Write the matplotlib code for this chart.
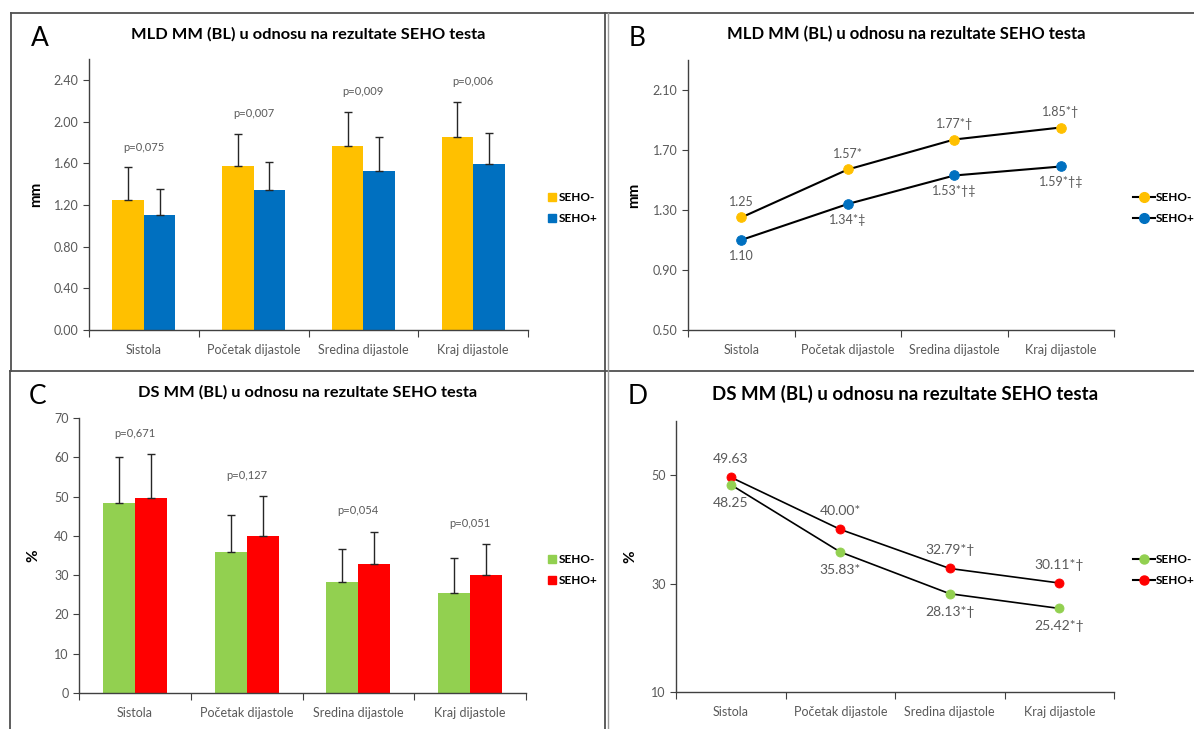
import numpy as np
import matplotlib
matplotlib.use("Agg")
import matplotlib.pyplot as plt
from matplotlib.patches import Patch
from matplotlib.lines import Line2D

plt.rcParams['font.family'] = ['Lato', 'DejaVu Sans']

# categories / groups
phases = ["Sistola", "Početak dijastole", "Sredina dijastole", "Kraj dijastole"]
groups = ["SEHO-", "SEHO+"]

# MLD MM (BL), mm
mld_neg = [1.25, 1.57, 1.77, 1.85]
mld_pos = [1.10, 1.34, 1.53, 1.59]
mld_neg_sd = [0.31, 0.31, 0.32, 0.34]
mld_pos_sd = [0.25, 0.27, 0.32, 0.30]
mld_p = ["p=0,075", "p=0,007", "p=0,009", "p=0,006"]
mld_neg_lbl = ["1.25", "1.57*", "1.77*†", "1.85*†"]
mld_pos_lbl = ["1.10", "1.34*‡", "1.53*†‡", "1.59*†‡"]

# DS MM (BL), %
ds_neg = [48.25, 35.83, 28.13, 25.42]
ds_pos = [49.63, 40.00, 32.79, 30.11]
ds_neg_sd = [11.9, 9.6, 8.6, 8.9]
ds_pos_sd = [11.1, 10.1, 8.3, 7.7]
ds_p = ["p=0,671", "p=0,127", "p=0,054", "p=0,051"]
ds_neg_lbl = ["48.25", "35.83*", "28.13*†", "25.42*†"]
ds_pos_lbl = ["49.63", "40.00*", "32.79*†", "30.11*†"]

ORANGE, BLUE = "#FFC000", "#0070C0"
GREEN, RED = "#92D050", "#FF0000"
GREY = "#595959"
AXIS = "#404040"

W, H = 1194, 729
fig = plt.figure(figsize=(W / 100, H / 100), dpi=100)


def px_axes(l, t, r, b):
    return fig.add_axes([l / W, 1 - b / H, (r - l) / W, (b - t) / H])


def fx(x):
    return x / W


def fy(y):
    return 1 - y / H


def style(ax, ymax, yticks, fmt, ylabel, lab_x):
    x = np.arange(len(phases))
    ax.set_xlim(-0.5, len(phases) - 0.5)
    ax.set_ylim(yticks[0], ymax)
    ax.set_yticks(yticks)
    ax.set_yticklabels([fmt.format(v) for v in yticks], color=GREY, fontsize=9)
    ax.set_xticks(np.arange(-0.5, len(phases)), labels=[""] * (len(phases) + 1))
    ax.set_xticks(x, labels=phases, minor=True)
    ax.tick_params(axis="x", which="major", length=5, direction="out", color=AXIS)
    ax.tick_params(axis="x", which="minor", length=0, pad=10, labelsize=9, labelcolor=GREY)
    ax.tick_params(axis="y", length=4, direction="out", color=AXIS)
    for s in ["top", "right"]:
        ax.spines[s].set_visible(False)
    for s in ["left", "bottom"]:
        ax.spines[s].set_color(AXIS)
        ax.spines[s].set_linewidth(1.0)
    ax.set_ylabel(ylabel, fontweight="bold", fontsize=11, color="black")
    ax.yaxis.set_label_coords(lab_x, 0.5)


def bar_panel(ax, neg, pos, neg_sd, pos_sd, pvals, c1, c2, ymax):
    x = np.arange(len(phases))
    w = 0.287
    ax.bar(x - w / 2, neg, w, color=c1, zorder=2)
    ax.bar(x + w / 2, pos, w, color=c2, zorder=2)
    ekw = dict(fmt="none", ecolor="#262626", elinewidth=1.0, capsize=3, capthick=1.0, zorder=3)
    ax.errorbar(x - w / 2, neg, yerr=[np.zeros(len(neg)), neg_sd], **ekw)
    ax.errorbar(x + w / 2, pos, yerr=[np.zeros(len(pos)), pos_sd], **ekw)
    tops = np.maximum(np.add(neg, neg_sd), np.add(pos, pos_sd))
    for xi, t, p in zip(x, tops, pvals):
        ax.text(xi, t + 0.075 * ymax, p, ha="center", va="center", fontsize=8, color=GREY)


def line_panel(ax, top, bot, top_lbl, bot_lbl, c_top, c_bot, ms, lw, fs, off):
    x = np.arange(len(phases))
    for vals, c in [(top, c_top), (bot, c_bot)]:
        ax.plot(x, vals, color="black", lw=lw, marker="o", ms=ms, mfc=c,
                mec=c, mew=0.6, zorder=3, clip_on=False)
    for xi, v, t in zip(x, top, top_lbl):
        ax.annotate(t, (xi, v), xytext=(0, off), textcoords="offset points",
                    ha="center", va="center", fontsize=fs, color=GREY)
    for xi, v, t in zip(x, bot, bot_lbl):
        ax.annotate(t, (xi, v), xytext=(0, -off), textcoords="offset points",
                    ha="center", va="center", fontsize=fs, color=GREY)


# ---- A: MLD bars
axA = px_axes(89, 59, 528, 330)
bar_panel(axA, mld_neg, mld_pos, mld_neg_sd, mld_pos_sd, mld_p, ORANGE, BLUE, 2.6)
style(axA, 2.6, np.arange(0, 2.41, 0.4), "{:.2f}", "mm", -46 / 439)

# ---- B: MLD lines
axB = px_axes(688, 60, 1114, 330)
line_panel(axB, mld_neg, mld_pos, mld_neg_lbl, mld_pos_lbl, ORANGE, BLUE, 7, 1.5, 9, 11.5)
style(axB, 2.3, np.arange(0.5, 2.11, 0.4), "{:.2f}", "mm", -47 / 426)

# ---- C: DS bars
axC = px_axes(79, 418, 526, 693)
bar_panel(axC, ds_neg, ds_pos, ds_neg_sd, ds_pos_sd, ds_p, GREEN, RED, 70)
style(axC, 70, np.arange(0, 71, 10), "{:.0f}", "%", -39 / 447)

# ---- D: DS lines
axD = px_axes(676, 421, 1114, 692)
line_panel(axD, ds_pos, ds_neg, ds_pos_lbl, ds_neg_lbl, RED, GREEN, 6.5, 1.2, 10, 13)
style(axD, 60, np.arange(10, 51, 20), "{:.0f}", "%", -39 / 438)

# legends
sq = dict(loc="center left", frameon=False, borderpad=0, handlelength=0.65, handleheight=0.65,
          handletextpad=0.25, labelspacing=0.8, prop={"weight": "bold", "size": 8.5})
fig.legend([Patch(color=ORANGE), Patch(color=BLUE)], groups,
           bbox_to_anchor=(fx(542), fy(208)), **sq)
fig.legend([Patch(color=GREEN), Patch(color=RED)], groups,
           bbox_to_anchor=(fx(542), fy(570)), **sq)

ln = dict(loc="center left", frameon=False, borderpad=0, handlelength=1.9,
          handletextpad=0.05, labelspacing=0.85, prop={"weight": "bold", "size": 8.5})


def lh(c, ms):
    return Line2D([], [], color="black", lw=1.5, marker="o", ms=ms, mfc=c, mec=c)


fig.legend([lh(ORANGE, 7), lh(BLUE, 7)], groups, bbox_to_anchor=(fx(1127), fy(208)), **ln)
fig.legend([lh(GREEN, 6.5), lh(RED, 6.5)], groups, bbox_to_anchor=(fx(1127), fy(570)), **ln)

# titles and panel letters
fig.text(fx(308), fy(34), "MLD MM (BL) u odnosu na rezultate SEHO testa",
         ha="center", va="center", fontweight="bold", fontsize=11.8)
fig.text(fx(906), fy(34), "MLD MM (BL) u odnosu na rezultate SEHO testa",
         ha="center", va="center", fontweight="bold", fontsize=12)
fig.text(fx(308), fy(392), "DS MM (BL) u odnosu na rezultate SEHO testa",
         ha="center", va="center", fontweight="bold", fontsize=11.8)
fig.text(fx(905), fy(394), "DS MM (BL) u odnosu na rezultate SEHO testa",
         ha="center", va="center", fontweight="bold", fontsize=13.4)

for lx, ly, s in [(40, 38, "A"), (637, 39, "B"), (38, 396, "C"), (638, 396, "D")]:
    fig.text(fx(lx), fy(ly), s, ha="center", va="center", fontsize=19)

# panel frames
frame = dict(color="#505050", lw=1.3, transform=fig.transFigure)
fig.add_artist(Line2D([fx(11), fx(11)], [fy(13), fy(371)], **frame))
fig.add_artist(Line2D([fx(10), fx(10)], [fy(371), fy(729)], **frame))
fig.add_artist(Line2D([fx(11), fx(1194)], [fy(13), fy(13)], **frame))
fig.add_artist(Line2D([fx(10), fx(1194)], [fy(371), fy(371)], **frame))
fig.add_artist(Line2D([fx(605), fx(605)], [fy(13), fy(729)], **frame))
fig.add_artist(Line2D([fx(608), fx(608)], [fy(13), fy(729)], color="#9a9a9a", lw=1.0,
                      transform=fig.transFigure))

fig.savefig("out.png", dpi=100)
